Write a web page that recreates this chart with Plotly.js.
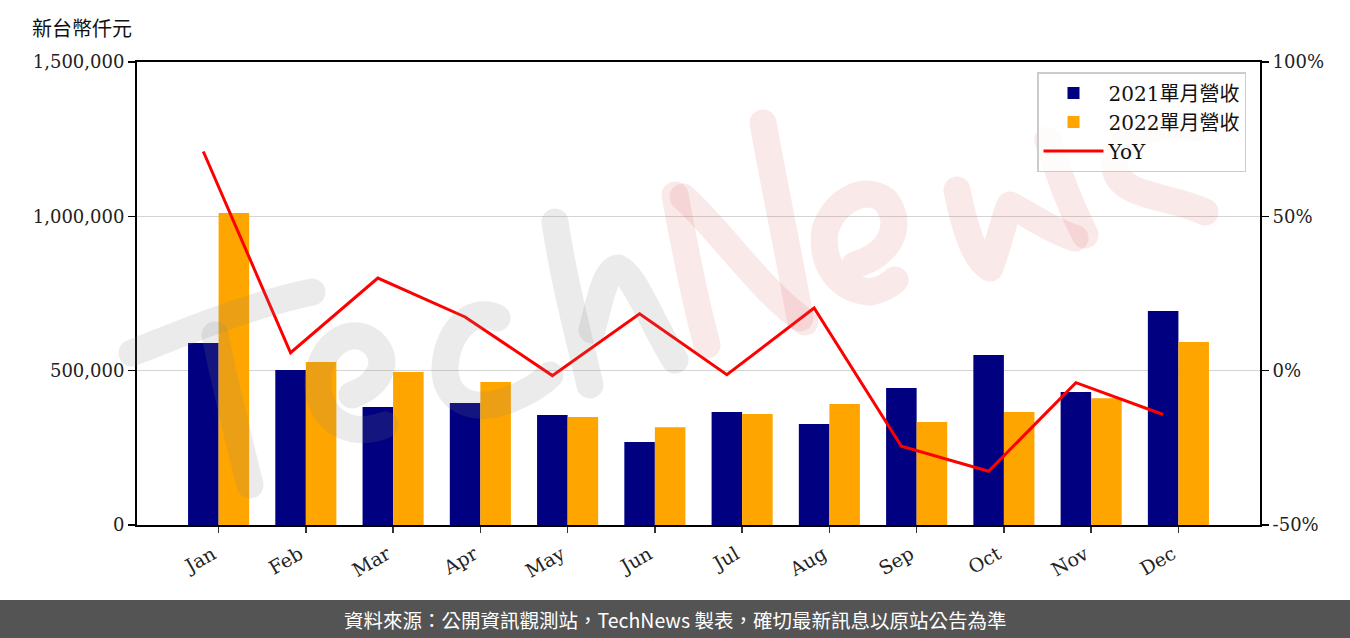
<!DOCTYPE html>
<html>
<head>
<meta charset="utf-8">
<script src="https://cdn.plot.ly/plotly-3.0.1.min.js"></script>
<style>
html,body{margin:0;padding:0;background:#fff;}
#chart{width:1350px;height:638px;}
</style>
</head>
<body>
<div id="chart"></div>
<script>
const months = ["Jan","Feb","Mar","Apr","May","Jun","Jul","Aug","Sep","Oct","Nov","Dec"];
const rev2021 = [590000, 502000, 382000, 395000, 356000, 269000, 366000, 327000, 444000, 551000, 431000, 693000];
const rev2022 = [1011000, 528000, 496000, 463000, 350000, 317000, 360000, 392000, 334000, 366000, 411000, 593000];
const yoy = [71, 5.8, 30, 17.4, -1.6, 18.4, -1.3, 20.3, -24.5, -32.6, -3.9, -14.2];
const leftTicks = [0, 500000, 1000000, 1500000];
const rightTicks = [-50, 0, 50, 100];
const rightTickText = ["-50%", "0%", "50%", "100%"];
const seriesNames = ["2021單月營收", "2022單月營收", "YoY"];
const unitLabel = "新台幣仟元";
const footerText = "資料來源：公開資訊觀測站，TechNews 製表，確切最新訊息以原站公告為準";

const idx = months.map((m, i) => i);
const barW = 0.35;

const serif = "'DejaVu Serif', 'Noto Sans CJK TC', serif";

const traces = [
  {type: "bar", name: seriesNames[0], x: idx, y: rev2021, width: barW, offset: -barW,
   marker: {color: "#000080", line: {width: 0}}, yaxis: "y"},
  {type: "bar", name: seriesNames[1], x: idx, y: rev2022, width: barW, offset: 0,
   marker: {color: "#FFA500", line: {width: 0}}, yaxis: "y"},
  {type: "scatter", mode: "lines", name: seriesNames[2], x: idx.map(i => i - barW / 2), y: yoy,
   line: {color: "#FF0000", width: 3}, yaxis: "y2"}
];

// watermark (decorative handwritten "TechNews")
const gray = "rgba(128,128,128,0.16)";
const pink = "rgba(215,70,70,0.12)";
const strokes = [
  [gray, "M132,353 C190,330 250,305 312,292"],
  [gray, "M215,335 C225,385 240,445 250,485"],
  [gray, "M352,395 C380,385 392,360 372,342 C350,325 320,345 318,380 C316,415 345,440 385,425"],
  [gray, "M497,318 C470,305 445,335 445,370 C446,405 480,415 520,395 C535,388 545,380 550,375"],
  [gray, "M555,222 C565,290 580,340 590,385"],
  [gray, "M592,330 C600,300 605,270 618,268 C635,275 650,320 675,360"],
  [pink, "M675,195 C685,250 695,300 707,345"],
  [pink, "M683,197 C720,230 760,290 805,322"],
  [pink, "M763,123 C775,190 790,260 800,318"],
  [pink, "M855,265 C890,255 905,225 885,200 C865,185 835,200 825,230 C820,265 840,290 870,292 C880,290 890,285 895,280"],
  [pink, "M957,190 C965,230 975,260 990,268 C1000,240 1005,215 1010,205 C1030,215 1050,230 1075,238"],
  [pink, "M1048,140 C1060,180 1075,215 1085,235"],
  [pink, "M1195,128 C1160,118 1110,138 1115,168 C1120,198 1170,195 1205,212"]
];
let svg = '<svg xmlns="http://www.w3.org/2000/svg" width="1350" height="638" viewBox="0 0 1350 638">';
strokes.forEach(s => {
  svg += '<path d="' + s[1] + '" fill="none" stroke="' + s[0] + '" stroke-width="27" stroke-linecap="round" stroke-linejoin="round"/>';
});
svg += '</svg>';
const svgUri = "data:image/svg+xml;charset=utf-8," + encodeURIComponent(svg);

const L = 137, R = 90, T = 62, B = 113, W = 1350, H = 638;
const pw = W - L - R, ph = H - T - B;

const layout = {
  width: W, height: H,
  margin: {l: L, r: R, t: T, b: B, pad: 0},
  paper_bgcolor: "#ffffff", plot_bgcolor: "#ffffff",
  barmode: "overlay",
  showlegend: true,
  font: {family: serif, color: "#000", size: 18},
  xaxis: {
    range: [-0.935, 11.935], tickmode: "array", tickvals: idx, ticktext: months,
    tickangle: -30, ticks: "outside", ticklen: 6, tickwidth: 1.5, tickcolor: "#333",
    showline: true, linecolor: "#000", linewidth: 2, mirror: true,
    showgrid: false, zeroline: false, fixedrange: true,
    ticklabelshift: -6, ticklabelstandoff: 3,
    tickfont: {family: serif, size: 19, color: "#222"}
  },
  yaxis: {
    range: [0, 1500000], tickmode: "array", tickvals: leftTicks, tickformat: ",d",
    ticks: "outside", ticklen: 7, tickwidth: 1.5, tickcolor: "#000",
    showline: true, linecolor: "#000", linewidth: 2, mirror: false,
    showgrid: true, gridcolor: "#d4d4d4", gridwidth: 1.5, zeroline: false,
    tickfont: {family: serif, size: 18, color: "#222"}
  },
  yaxis2: {
    overlaying: "y", side: "right", range: [-50, 100], tickmode: "array",
    tickvals: rightTicks, ticktext: rightTickText,
    ticks: "outside", ticklen: 7, tickwidth: 1.5, tickcolor: "#000",
    showline: true, linecolor: "#000", linewidth: 2,
    showgrid: false, zeroline: false,
    tickfont: {family: serif, size: 18, color: "#222"}
  },
  legend: {
    x: (1246 - L) / pw, y: (H - B - 72) / ph, xanchor: "right", yanchor: "top",
    bgcolor: "rgba(255,255,255,0.8)", bordercolor: "#cccccc", borderwidth: 1.5,
    font: {family: serif, size: 20, color: "#111"}, tracegroupgap: 2,
    itemwidth: 60
  },
  annotations: [
    {text: unitLabel, xref: "paper", yref: "paper", x: (30 - L) / pw, y: (H - B - 27) / ph,
     xanchor: "left", yanchor: "middle", showarrow: false,
     font: {family: "'Noto Sans CJK TC', sans-serif", size: 20, color: "#111"}},
    {text: footerText, xref: "paper", yref: "paper", x: (675 - L) / pw, y: (H - B - 619) / ph,
     xanchor: "center", yanchor: "middle", showarrow: false,
     font: {family: "'Noto Sans CJK TC', sans-serif", size: 19.5, color: "#ffffff"}}
  ],
  shapes: [
    {type: "rect", xref: "paper", yref: "paper", layer: "below",
     x0: -L / pw, x1: (W - L) / pw, y0: (H - B - 600) / ph, y1: (H - B - 640) / ph,
     fillcolor: "#545454", line: {width: 0}}
  ],
  images: [
    {source: svgUri, xref: "paper", yref: "paper", x: -L / pw, y: (H - B) / ph,
     sizex: W / pw, sizey: H / ph, xanchor: "left", yanchor: "top",
     sizing: "stretch", layer: "above", opacity: 1}
  ]
};

Plotly.newPlot("chart", traces, layout, {displayModeBar: false, staticPlot: true});
</script>
</body>
</html>
